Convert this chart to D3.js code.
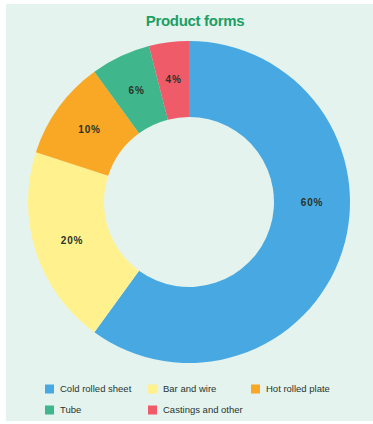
<!DOCTYPE html>
<html>
<head>
<meta charset="utf-8">
<script src="https://cdn.jsdelivr.net/npm/d3@7"></script>
<style>
  html, body { margin: 0; padding: 0; background: #ffffff; }
  svg { display: block; }
</style>
</head>
<body>
<svg id="chart" width="373" height="424"></svg>
<script>
// Share of output by product form (percent)
const categories = ["Cold rolled sheet", "Bar and wire", "Hot rolled plate", "Tube", "Castings and other"];
const shares = [60, 20, 10, 6, 4];
const colors = ["#48a9e2", "#fff28e", "#f9a825", "#3fb68b", "#ef5b69"];
const title = "Product forms";

const svg = d3.select("#chart");
const W = 373, H = 424;

// panel background
svg.append("rect")
  .attr("x", 6).attr("y", 4)
  .attr("width", W - 6).attr("height", H - 7)
  .attr("fill", "#e4f3ed");

svg.append("text")
  .attr("x", 195).attr("y", 26)
  .attr("text-anchor", "middle")
  .attr("font-family", "Liberation Sans, Arial, sans-serif")
  .attr("font-weight", "bold")
  .attr("font-size", 15)
  .attr("letter-spacing", -0.3)
  .attr("fill", "#1c9e66")
  .text(title);

const cx = 189, cy = 202, rOuter = 161, rInner = 85;

const pie = d3.pie().sort(null).value(d => d.value);
const data = categories.map((c, i) => ({ name: c, value: shares[i], color: colors[i] }));
const arcs = pie(data);

const arc = d3.arc().innerRadius(rInner).outerRadius(rOuter);

const g = svg.append("g").attr("transform", `translate(${cx},${cy})`);

g.selectAll("path.slice")
  .data(arcs)
  .join("path")
  .attr("class", "slice")
  .attr("d", arc)
  .attr("fill", d => d.data.color);

// label sits mid-ring; a slice wider than half a turn gets its label on the right side
const rLabel = (rInner + rOuter) / 2;
function labelAngle(d) {
  const span = d.endAngle - d.startAngle;
  if (span > Math.PI) return Math.PI / 2;
  return (d.startAngle + d.endAngle) / 2;
}

g.selectAll("text.value")
  .data(arcs)
  .join("text")
  .attr("class", "value")
  .attr("x", d => rLabel * Math.sin(labelAngle(d)))
  .attr("y", d => -rLabel * Math.cos(labelAngle(d)))
  .attr("dy", "0.35em")
  .attr("text-anchor", "middle")
  .attr("font-family", "Liberation Sans, Arial, sans-serif")
  .attr("font-weight", "bold")
  .attr("font-size", 10)
  .attr("letter-spacing", 0.8)
  .attr("fill", "#2a3229")
  .text(d => d.data.value + "%");

// legend: three columns, two rows
const legendCols = [45, 148, 251];
const legendRows = [389, 410];
const legend = svg.append("g");
data.forEach((d, i) => {
  const x = legendCols[i % 3];
  const y = legendRows[Math.floor(i / 3)];
  legend.append("rect")
    .attr("x", x).attr("y", y - 4.5)
    .attr("width", 9).attr("height", 9)
    .attr("fill", d.color);
  legend.append("text")
    .attr("x", x + 15).attr("y", y)
    .attr("dy", "0.35em")
    .attr("font-family", "Liberation Sans, Arial, sans-serif")
    .attr("font-size", 9.5)
    .attr("fill", "#2a3530")
    .text(d.name);
});
</script>
</body>
</html>
